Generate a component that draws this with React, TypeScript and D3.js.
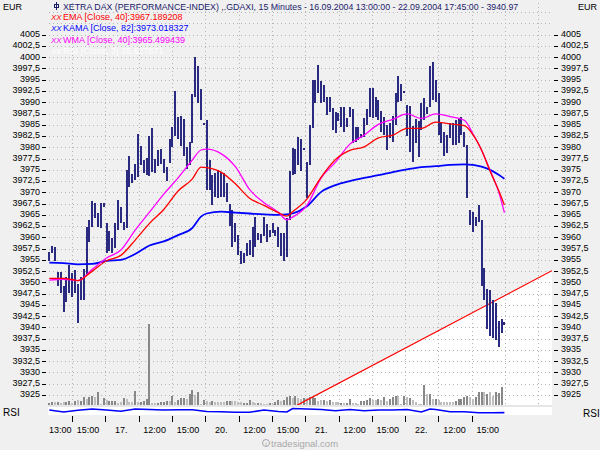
import React from "react";
import * as d3 from "d3";

// ---------- data ----------
const highs = [
  3956.8, 3958.1, 3957.9, 3952.2, 3952.4, 3949.2, 3951.1, 3953.9, 3952.0, 3952.8,
  3949.7, 3951.1, 3952.9, 3962.4, 3963.9, 3968.1, 3967.6, 3965.3, 3967.7, 3967.7,
  3963.2, 3961.4, 3959.8, 3963.1, 3968.3, 3966.8, 3963.4, 3975.0, 3978.1, 3974.0,
  3976.4, 3983.0, 3980.3, 3977.2, 3977.6, 3982.5, 3984.3, 3977.3, 3979.4, 3979.7,
  3977.5, 3975.7, 3981.8, 3984.4, 3992.4, 3986.8, 3987.0, 3986.2, 3980.1, 3981.2,
  3991.8, 4000.0, 3998.1, 3992.9, 3985.5, 3986.1, 3977.2, 3973.9, 3974.2, 3975.0,
  3974.6, 3974.2, 3972.0, 3967.4, 3966.1, 3963.1, 3960.5, 3957.0, 3956.6, 3958.7,
  3959.4, 3962.2, 3964.6, 3961.0, 3960.8, 3964.6, 3963.0, 3961.6, 3963.1, 3961.6,
  3962.2, 3960.9, 3960.9, 3964.2, 3974.8, 3979.8, 3979.6, 3982.2, 3981.8, 3979.8,
  3976.8, 3985.0, 3994.9, 3994.9, 3998.3, 3994.8, 3993.8, 3991.2, 3991.1, 3988.7,
  3987.9, 3987.6, 3989.0, 3989.0, 3986.4, 3988.9, 3988.4, 3984.4, 3984.4, 3983.0,
  3986.4, 3988.4, 3993.1, 3993.1, 3991.2, 3990.5, 3988.1, 3986.8, 3985.0, 3985.3,
  3987.0, 3992.1, 3995.8, 3994.1, 3992.5, 3989.4, 3989.2, 3984.7, 3986.2, 3985.9,
  3989.8, 3990.9, 3989.0, 3998.1, 3999.0, 3994.9, 3992.1, 3985.7, 3983.5, 3982.7,
  3985.3, 3985.3, 3986.1, 3986.4, 3986.8, 3983.5, 3980.5, 3966.1, 3965.7, 3964.6,
  3967.2, 3963.9, 3953.1, 3948.5, 3948.3, 3946.1, 3945.4, 3941.5, 3941.8, 3941.1,
];

const lows = [
  3954.8, 3956.6, 3954.8, 3949.1, 3947.6, 3943.5, 3945.7, 3947.6, 3946.7, 3947.6,
  3940.9, 3946.1, 3946.1, 3951.6, 3959.0, 3962.4, 3964.2, 3962.2, 3962.0, 3966.8,
  3956.5, 3957.0, 3956.5, 3957.6, 3961.6, 3963.1, 3961.6, 3962.1, 3971.1, 3972.0,
  3972.7, 3973.5, 3976.1, 3974.4, 3973.9, 3973.6, 3974.6, 3974.4, 3975.8, 3976.4,
  3974.4, 3972.6, 3976.6, 3980.1, 3982.5, 3981.8, 3980.3, 3978.1, 3975.1, 3976.1,
  3981.0, 3991.1, 3989.8, 3986.1, 3985.0, 3970.5, 3970.5, 3967.2, 3969.0, 3968.7,
  3968.9, 3969.0, 3967.9, 3962.5, 3957.9, 3959.0, 3956.1, 3954.1, 3954.2, 3955.9,
  3956.1, 3955.6, 3957.9, 3959.4, 3958.7, 3960.2, 3959.0, 3960.0, 3960.9, 3960.2,
  3957.8, 3955.9, 3954.8, 3955.7, 3963.9, 3973.9, 3974.1, 3976.1, 3974.8, 3979.3,
  3968.7, 3976.1, 3984.2, 3989.8, 3992.1, 3989.9, 3990.1, 3987.2, 3987.9, 3983.8,
  3983.1, 3985.9, 3984.6, 3983.5, 3984.6, 3986.8, 3980.9, 3981.2, 3981.6, 3982.0,
  3982.2, 3985.0, 3986.8, 3986.4, 3986.8, 3986.1, 3983.5, 3982.7, 3979.4, 3982.0,
  3981.2, 3985.0, 3990.1, 3990.3, 3992.1, 3982.4, 3979.0, 3976.8, 3980.9, 3977.9,
  3983.8, 3986.1, 3987.5, 3989.0, 3990.5, 3990.1, 3982.7, 3981.0, 3978.1, 3978.7,
  3982.0, 3980.5, 3980.5, 3981.0, 3982.7, 3980.1, 3968.7, 3962.8, 3961.3, 3962.5,
  3963.5, 3949.1, 3946.1, 3939.6, 3938.0, 3937.6, 3937.2, 3935.7, 3938.8, 3940.6,
];

const volumes = [
  230, 330, 270, 330, 230, 330, 270, 370, 230, 400,
  470, 430, 800, 630, 800, 930, 800, 1270, 100, 700,
  530, 430, 430, 370, 230, 330, 730, 600, 300, 300,
  1400, 330, 330, 400, 600, 8100, 200, 200, 230, 300,
  300, 400, 400, 900, 330, 500, 700, 700, 570, 1100,
  1500, 1000, 1300, 100, 500, 370, 300, 400, 300, 300,
  300, 300, 400, 400, 400, 400, 300, 300, 230, 230,
  500, 300, 170, 230, 170, 100, 100, 200, 100, 300,
  500, 370, 500, 830, 900, 700, 900, 700, 630, 700,
  700, 800, 800, 730, 400, 470, 500, 400, 470, 300,
  270, 300, 230, 200, 230, 600, 200, 200, 130, 400,
  400, 500, 700, 500, 530, 600, 530, 800, 430, 630,
  830, 900, 900, 100, 870, 800, 700, 500, 300, 100,
  100, 2000, 1100, 1070, 630, 630, 470, 330, 330, 330,
  330, 330, 430, 570, 600, 830, 930, 830, 600, 830,
  1270, 1270, 1270, 1100, 1270, 930, 1270, 1170, 1830, 0,
];

// 1 = dark bar, 0 = light bar
const volumeDark = [
  1, 1, 0, 1, 0, 0, 1, 1, 0, 1,
  0, 1, 1, 0, 1, 1, 0, 1, 0, 1,
  0, 1, 1, 1, 0, 0, 1, 0, 0, 0,
  1, 0, 1, 1, 1, 1, 0, 0, 1, 1,
  1, 1, 0, 1, 0, 1, 1, 1, 0, 1,
  1, 0, 1, 0, 1, 0, 0, 1, 0, 0,
  0, 0, 1, 1, 0, 0, 0, 0, 1, 1,
  1, 0, 0, 1, 0, 0, 0, 1, 0, 1,
  1, 0, 1, 1, 1, 0, 1, 0, 0, 1,
  0, 1, 1, 1, 0, 0, 1, 0, 1, 0,
  0, 0, 1, 0, 1, 1, 0, 0, 0, 1,
  1, 1, 1, 0, 0, 1, 0, 1, 0, 1,
  1, 1, 0, 0, 1, 0, 1, 0, 0, 0,
  0, 1, 0, 1, 0, 1, 0, 0, 0, 0,
  0, 0, 1, 1, 1, 1, 1, 0, 0, 1,
  1, 1, 0, 1, 0, 0, 1, 1, 1, 0,
];

// indicator lines, sampled at bar indices
const maIdx = [0, 5, 10, 15, 20, 25, 30, 35, 40, 45, 50, 53, 55, 60, 65, 70, 75, 80, 83, 85,
  90, 95, 100, 105, 110, 115, 120, 125, 130, 135, 140, 145, 148, 151, 154, 157, 159];
const emaValues = [3950.9, 3950.9, 3950.4, 3952.5, 3954.8, 3956.0, 3959.4, 3963.1, 3966.2, 3970.3,
  3973.0, 3975.6, 3975.5, 3974.5, 3971.9, 3968.7, 3967.1, 3965.5, 3964.7, 3965.7,
  3968.5, 3973.4, 3977.3, 3979.3, 3980.1, 3982.1, 3982.7, 3984.2, 3984.2, 3985.6,
  3985.2, 3984.8, 3982.8, 3979.4, 3974.7, 3970.4, 3967.2];
const kamaValues = [3954.4, 3954.3, 3954.0, 3954.1, 3954.8, 3955.0, 3956.3, 3958.2, 3959.1, 3960.5,
  3962.1, 3964.6, 3965.3, 3965.7, 3965.5, 3965.3, 3965.1, 3965.0, 3965.1, 3965.3,
  3966.9, 3970.1, 3971.6, 3972.5, 3973.2, 3973.8, 3974.5, 3975.1, 3975.6, 3975.8,
  3976.1, 3976.2, 3976.1, 3975.7, 3975.0, 3973.9, 3973.0];
const wmaValues = [3950.5, 3950.7, 3950.4, 3952.9, 3955.4, 3957.2, 3961.6, 3965.6, 3969.6, 3973.2,
  3977.2, 3979.4, 3979.6, 3978.6, 3975.7, 3970.6, 3967.7, 3965.6, 3963.9, 3964.5,
  3967.1, 3973.2, 3976.7, 3980.7, 3982.7, 3985.1, 3986.2, 3987.4, 3986.4, 3987.4,
  3986.8, 3986.0, 3983.0, 3979.4, 3974.9, 3970.1, 3965.5];

const rsiIdx = [0, 5, 10, 15, 20, 25, 30, 35, 40, 45, 50, 55, 60, 65, 70, 75, 80, 83, 85, 90,
  95, 100, 105, 110, 115, 120, 125, 130, 133, 135, 140, 145, 150, 155, 159];
const rsiValues = [68.8, 43.8, 65.0, 81.3, 68.8, 52.5, 81.3, 75.0, 68.8, 72.5, 72.5, 50.0, 47.5,
  40.0, 40.0, 68.8, 50.0, 43.8, 87.5, 81.3, 75.0, 60.0, 75.0, 60.0, 68.8, 68.8, 75.0, 43.8,
  81.3, 75.0, 47.5, 47.5, 35.0, 35.0, 35.6];

// trend line: [bar index, price]
const trendIdx = [86.5, 175.6];
const trendVal = [3922.7, 3952.6];

// time axis: grid positions (bar index) and labels
const timeGrid = [7.93, 19.57, 31.21, 42.85, 54.49, 66.13, 77.77, 89.41, 101.05, 112.69,
  124.33, 135.97, 147.61, 159.25, 170.89];
const timeTickCount = 13;
const timeLabels = ["15:00", "17.", "12:00", "15:00", "20.", "12:00", "15:00", "21.",
  "12:00", "15:00", "22.", "12:00", "15:00"];
const firstTimeLabel = "13:00";

const priceTicks = d3.range(3925, 4005.001, 2.5);
const titleText =
  "XETRA DAX (PERFORMANCE-INDEX) ,.GDAXI, 15 Minutes - 16.09.2004 13:00:00 - 22.09.2004 17:45:00 - 3940.97";
const legendItems = [
  { label: "EMA [Close, 40]:3967.189208", color: "#ff0000" },
  { label: "KAMA [Close, 82]:3973.018327", color: "#0000ff" },
  { label: "WMA [Close, 40]:3965.499439", color: "#ff00ff" },
  { label: "RSI [Close, 3]:35.627871", color: "#ffffff" },
];

// ---------- layout ----------
const W = 600;
const H = 450;
const PL = 48;
const PR = 552;
const PT = 2;
const PB = 405;
const RSI_TOP = 407;
const RSI_BOT = 415;
const FONT = "'Liberation Sans', Arial, sans-serif";
const BAR_COLOR = "#2a2a80";

export default function App() {
  const n = highs.length;
  const x = d3.scaleLinear().domain([0, n - 1]).range([49.3, 504.4]);
  const y = d3.scaleLinear().domain([3925, 4005]).range([395, 34.7]);
  const maxVol = d3.max(volumes) as number;
  const yVol = d3.scaleLinear().domain([0, maxVol]).range([PB, PB - 0.2 * (PB - PT)]);
  const yRsi = d3.scaleLinear().domain([0, 100]).range([415.5, 407.5]);

  const fmt = (v: number) => (Number.isInteger(v) ? String(v) : v.toFixed(1).replace(".", ","));

  const gridVals = d3.range(3900, 4020, 2.5).filter((v) => y(v) > PT + 1 && y(v) < PB - 1);

  const maLine = (vals: number[]) =>
    d3
      .line<number>()
      .x((_, i) => x(maIdx[i]))
      .y((d) => y(d))
      .curve(d3.curveMonotoneX)(vals) as string;

  const rsiLine = d3
    .line<number>()
    .x((_, i) => x(rsiIdx[i]))
    .y((d) => yRsi(d))(rsiValues) as string;

  const tx0 = x(trendIdx[0]);
  const ty0 = y(trendVal[0]);
  const tx1 = x(trendIdx[1]);
  const ty1 = y(trendVal[1]);
  const whiteArea = `M${tx0},${ty0}L${tx1},${ty1}L${tx1},${PB + 5}L${tx0},${PB + 5}Z`;

  return (
    <svg
      width={W}
      height={H}
      viewBox={`0 0 ${W} ${H}`}
      style={{ position: "fixed", left: 0, top: 0, background: "#f0f0f0" }}
      fontFamily={FONT}
    >
      <defs>
        <clipPath id="plotClip">
          <rect x={PL} y={PT} width={PR - PL} height={PB - PT} />
        </clipPath>
        <clipPath id="rsiClip">
          <rect x={PL} y={RSI_TOP} width={PR - PL} height={RSI_BOT - RSI_TOP} />
        </clipPath>
      </defs>
      <rect x={0} y={0} width={W} height={H} fill="#f0f0f0" />

      {/* white area under trend line */}
      <g clipPath="url(#plotClip)">
        <path d={whiteArea} fill="#ffffff" />
      </g>

      {/* separator band and RSI panel */}
      <rect x={PL} y={PB} width={PR - PL} height={RSI_TOP - PB} fill="#e6e6e6" />
      <rect x={PL} y={RSI_TOP} width={PR - PL} height={RSI_BOT - RSI_TOP} fill="#ffffff" />

      {/* grid */}
      <g stroke="#b4b4b4" strokeWidth={1} strokeDasharray="1 3" shapeRendering="crispEdges">
        {gridVals.map((v) => (
          <line key={"h" + v} x1={PL + 1} x2={PR} y1={Math.round(y(v)) + 0.5} y2={Math.round(y(v)) + 0.5} />
        ))}
        {timeGrid.map((t) => (
          <line key={"v" + t} x1={Math.round(x(t)) + 0.5} x2={Math.round(x(t)) + 0.5} y1={PT + 1} y2={PB} />
        ))}
      </g>

      {/* volume */}
      <g shapeRendering="crispEdges">
        {volumes.map((v, i) =>
          v > 0 ? (
            <rect
              key={"vol" + i}
              x={Math.round(x(i)) - 1}
              y={yVol(v)}
              width={2}
              height={PB - yVol(v)}
              fill={volumeDark[i] ? "#888888" : "#bebebe"}
            />
          ) : null
        )}
      </g>

      {/* trend line */}
      <g clipPath="url(#plotClip)">
        <line x1={tx0} y1={ty0} x2={tx1} y2={ty1} stroke="#ff0000" strokeWidth={1.2} />
      </g>

      {/* price bars */}
      <g shapeRendering="crispEdges">
        {highs.map((h, i) => {
          const top = y(h);
          const bot = Math.max(y(lows[i]), top + 2);
          return (
            <rect key={"b" + i} x={Math.round(x(i)) - 1} y={top} width={2} height={bot - top} fill={BAR_COLOR} />
          );
        })}
      </g>

      {/* indicator lines */}
      <path d={maLine(kamaValues)} fill="none" stroke="#0000ff" strokeWidth={1.8} />
      <path d={maLine(wmaValues)} fill="none" stroke="#ff00ff" strokeWidth={1.3} />
      <path d={maLine(emaValues)} fill="none" stroke="#ff0000" strokeWidth={1.3} />

      {/* RSI */}
      <g clipPath="url(#rsiClip)">
        <path d={rsiLine} fill="none" stroke="#0000ff" strokeWidth={1.6} />
      </g>
      <text x={3} y={416} fontSize={10} fill="#000">RSI</text>
      <text x={583} y={417} fontSize={10} fill="#000">RSI</text>

      {/* price axes */}
      <g fontSize={9} fill="#000">
        {priceTicks.map((v) => (
          <g key={"pt" + v}>
            <line x1={42} x2={46} y1={Math.round(y(v)) + 0.5} y2={Math.round(y(v)) + 0.5} stroke="#000" shapeRendering="crispEdges" />
            <text x={40} y={y(v)} textAnchor="end" dominantBaseline="middle">{fmt(v)}</text>
            <line x1={554} x2={558} y1={Math.round(y(v)) + 0.5} y2={Math.round(y(v)) + 0.5} stroke="#000" shapeRendering="crispEdges" />
            <text x={561} y={y(v)} textAnchor="start" dominantBaseline="middle">{fmt(v)}</text>
          </g>
        ))}
      </g>

      {/* time axis */}
      <g fontSize={9} fill="#000">
        {timeGrid.slice(0, timeTickCount).map((t, i) => (
          <g key={"tt" + i}>
            <line x1={Math.round(x(t)) + 0.5} x2={Math.round(x(t)) + 0.5} y1={416} y2={422} stroke="#000" shapeRendering="crispEdges" />
            <text x={x(t) + 16} y={433} textAnchor="middle">{timeLabels[i]}</text>
          </g>
        ))}
        <text x={PL + 1} y={433} textAnchor="start">{firstTimeLabel}</text>
      </g>

      {/* header */}
      <text x={3} y={10} fontSize={9} fill="#000">EUR</text>
      <text x={578} y={10} fontSize={9} fill="#000">EUR</text>
      <g stroke="#1c1c6c" strokeWidth={1} fill="none" shapeRendering="crispEdges">
        <line x1={56.5} x2={56.5} y1={2} y2={10} />
        <rect x={54.5} y={4.5} width={4} height={3} />
      </g>
      <text x={63} y={9.5} fontSize={8.8} fill="#1c1c6c">{titleText}</text>
      {legendItems.map((it, i) => (
        <g key={"lg" + i} fill={it.color}>
          <text x={51} y={20 + i * 11.3} fontSize={8} fontStyle="italic">XX</text>
          <text x={63} y={20 + i * 11.3} fontSize={9}>{it.label}</text>
        </g>
      ))}

      {/* footer */}
      <g fill="#a8a8a8" stroke="none">
        <circle cx={266} cy={443} r={3.5} fill="none" stroke="#a8a8a8" strokeWidth={1} />
        <text x={266} y={445.5} fontSize={6} textAnchor="middle">t</text>
        <text x={271} y={447} fontSize={9.5}>tradesignal.com</text>
      </g>
    </svg>
  );
}
